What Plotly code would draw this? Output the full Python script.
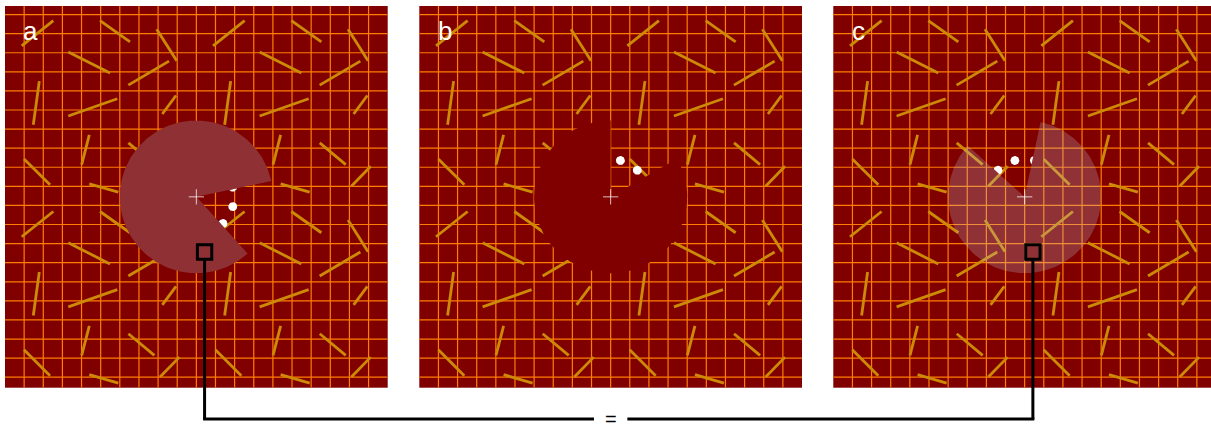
import numpy as np
import plotly.graph_objects as go

W, H = 1211, 424

# ---------------- data ----------------
panel_labels = ["a", "b", "c"]

# texture tile (10 x 10 grid cells), repeated 2 x 2 in every panel
seg_x0 = [0.873, 4.965, 7.928, 3.308, 6.444, 1.793, 3.308, 8.220, 4.406, 6.449, 0.993, 4.406, 8.100]
seg_y0 = [2.090, 0.768, 1.218, 2.404, 4.144, 3.935, 5.764, 5.660, 6.757, 7.175, 8.011, 9.318, 9.443]
seg_x1 = [2.524, 6.533, 8.973, 5.487, 8.571, 1.479, 5.869, 8.937, 4.008, 7.808, 2.352, 5.921, 9.114]
seg_y1 = [0.768, 1.881, 2.874, 3.517, 2.890, 6.219, 4.860, 4.688, 8.309, 8.309, 9.370, 9.757, 8.398]
tile_size = 10

grid_x = list(range(1, 20))
grid_y = [0.45 + k for k in range(20)]

center_x, center_y = 10.0, 10.0
disc_radius = 4.0
wedge_start = [-48, 30, 78]     # degrees (counter-clockwise, y up)
wedge_end = [12, 90, 138]
dot_angles = [[15, -15, -45], [75, 45], [105, 75, 135]]
dot_ring_radius = 1.97
dot_radius = 0.235

square_x, square_y = 10.43, 12.89
square_half = 0.375
square_panels = [0, 2]

# ---------------- layout / style ----------------
panel_left_px = [5.0, 419.3, 833.3]
panel_top_px, panel_bottom_px = 6.0, 387.7
cell_px = 19.135
n_cells = 20
connector_y_px = 419.0
eq_gap_px = 16.7

bg_color = "#800000"
grid_color = "rgb(255,125,0)"
seg_color = "rgb(205,138,6)"
disc_colors = ["rgb(143,48,53)", bg_color, "rgba(190,195,215,0.25)"]
font_family = "Arial, Liberation Sans, sans-serif"


def px_x(i, cx):
    return panel_left_px[i] + cx * cell_px


def px_y(cy):
    return panel_top_px + cy * (panel_bottom_px - panel_top_px) / n_cells


def clip_half(poly, a, b):
    # keep a*x + b*y >= 0
    out = []
    n = len(poly)
    for k in range(n):
        p, q = poly[k], poly[(k + 1) % n]
        fp = a * p[0] + b * p[1]
        fq = a * q[0] + b * q[1]
        if fp >= 0:
            out.append(p)
        if (fp >= 0) != (fq >= 0):
            t = fp / (fp - fq)
            out.append((p[0] + t * (q[0] - p[0]), p[1] + t * (q[1] - p[1])))
    return out


fig = go.Figure()
layout = dict(template="none", width=W, height=H,
              margin=dict(l=0, r=0, t=0, b=0, pad=0),
              paper_bgcolor="white", plot_bgcolor=bg_color, showlegend=False)

ydom = [1 - panel_bottom_px / H, 1 - panel_top_px / H]

for i in range(3):
    sfx = "" if i == 0 else str(i + 1)
    xa, ya = "x" + sfx, "y" + sfx
    right_px = min(panel_left_px[i] + n_cells * cell_px, W)
    xmax = (right_px - panel_left_px[i]) / cell_px
    layout["xaxis" + sfx] = dict(
        domain=[panel_left_px[i] / W, right_px / W], range=[0, xmax],
        visible=False, showgrid=False, zeroline=False, fixedrange=True, anchor=ya)
    layout["yaxis" + sfx] = dict(
        domain=ydom, range=[n_cells, 0],
        visible=False, showgrid=False, zeroline=False, fixedrange=True, anchor=xa)

    # grid (anti-aliased lines)
    gx, gy = [], []
    for v in grid_x:
        gx += [v, v, None]
        gy += [0, n_cells, None]
    for h in grid_y:
        gx += [0, n_cells, None]
        gy += [h, h, None]
    fig.add_trace(go.Scatter(x=gx, y=gy, mode="lines",
                             line=dict(color=grid_color, width=1.2),
                             xaxis=xa, yaxis=ya, hoverinfo="skip"))

    # texture segments
    xs, ys = [], []
    for tx in (0, tile_size):
        for ty in (0, tile_size):
            for k in range(len(seg_x0)):
                xs += [seg_x0[k] + tx, seg_x1[k] + tx, None]
                ys += [seg_y0[k] + ty, seg_y1[k] + ty, None]
    fig.add_trace(go.Scatter(x=xs, y=ys, mode="lines",
                             line=dict(color=seg_color, width=2.8),
                             xaxis=xa, yaxis=ya, hoverinfo="skip"))

    # white dots, visible only inside the wedge
    s, e = np.radians(wedge_start[i]), np.radians(wedge_end[i])
    dx, dy = [], []
    for ang in dot_angles[i]:
        ar = np.radians(ang)
        mx, my = dot_ring_radius * np.cos(ar), dot_ring_radius * np.sin(ar)
        t = np.linspace(0, 2 * np.pi, 48, endpoint=False)
        poly = [(mx + dot_radius * np.cos(u), my + dot_radius * np.sin(u)) for u in t]
        poly = clip_half(poly, -np.sin(s), np.cos(s))
        poly = clip_half(poly, np.sin(e), -np.cos(e))
        if len(poly) < 3:
            continue
        for p in poly + [poly[0]]:
            dx.append(center_x + p[0])
            dy.append(center_y - p[1])
        dx.append(None)
        dy.append(None)
    fig.add_trace(go.Scatter(x=dx, y=dy, mode="lines", fill="toself",
                             fillcolor="white", line=dict(width=0, color="white"),
                             xaxis=xa, yaxis=ya, hoverinfo="skip"))

    # pac-man disc
    arc = np.radians(np.linspace(wedge_end[i], wedge_start[i] + 360, 200))
    px_ = [center_x] + list(center_x + disc_radius * np.cos(arc)) + [center_x]
    py_ = [center_y] + list(center_y - disc_radius * np.sin(arc)) + [center_y]
    fig.add_trace(go.Scatter(x=px_, y=py_, mode="lines", fill="toself",
                             fillcolor=disc_colors[i], line=dict(width=0, color=disc_colors[i]),
                             xaxis=xa, yaxis=ya, hoverinfo="skip"))

    # fixation cross
    arm = 0.4
    fig.add_trace(go.Scatter(x=[center_x - arm, center_x + arm, None, center_x, center_x],
                             y=[center_y, center_y, None, center_y - arm, center_y + arm],
                             mode="lines", line=dict(color="rgba(255,255,255,0.75)", width=1),
                             xaxis=xa, yaxis=ya, hoverinfo="skip"))

fig.update_layout(**layout)

annotations = []
for i in range(3):
    sfx = "" if i == 0 else str(i + 1)
    annotations.append(dict(text=panel_labels[i], xref="x" + sfx, yref="y" + sfx,
                            x=0.85, y=1.33, xanchor="left", yanchor="middle",
                            showarrow=False, font=dict(size=26, color="white", family=font_family)))

# "=" between the connected squares
eq_px = px_x(1, center_x)
annotations.append(dict(text="=", xref="paper", yref="paper", x=eq_px / W,
                        y=1 - connector_y_px / H, xanchor="center", yanchor="middle",
                        showarrow=False, font=dict(size=20, color="black", family=font_family)))

shapes = []
for i in square_panels:
    sfx = "" if i == 0 else str(i + 1)
    shapes.append(dict(type="rect", xref="x" + sfx, yref="y" + sfx,
                       x0=square_x - square_half, x1=square_x + square_half,
                       y0=square_y - square_half, y1=square_y + square_half,
                       line=dict(color="black", width=3), fillcolor="rgba(0,0,0,0)"))
    sx = px_x(i, square_x) / W
    shapes.append(dict(type="line", xref="paper", yref="paper",
                       x0=sx, x1=sx, y0=1 - px_y(square_y + square_half) / H,
                       y1=1 - connector_y_px / H, line=dict(color="black", width=3)))

ya_p = 1 - connector_y_px / H
ax_ = px_x(0, square_x)
cx_ = px_x(2, square_x)
shapes.append(dict(type="line", xref="paper", yref="paper", x0=(ax_ - 1.5) / W,
                   x1=(eq_px - eq_gap_px) / W, y0=ya_p, y1=ya_p,
                   line=dict(color="black", width=3)))
shapes.append(dict(type="line", xref="paper", yref="paper", x0=(eq_px + eq_gap_px) / W,
                   x1=(cx_ + 1.5) / W, y0=ya_p, y1=ya_p,
                   line=dict(color="black", width=3)))

fig.update_layout(annotations=annotations, shapes=shapes)
fig.write_html("out.html", config={"displayModeBar": False},
               post_script="document.body.style.margin='0';document.body.style.overflow='hidden';")
